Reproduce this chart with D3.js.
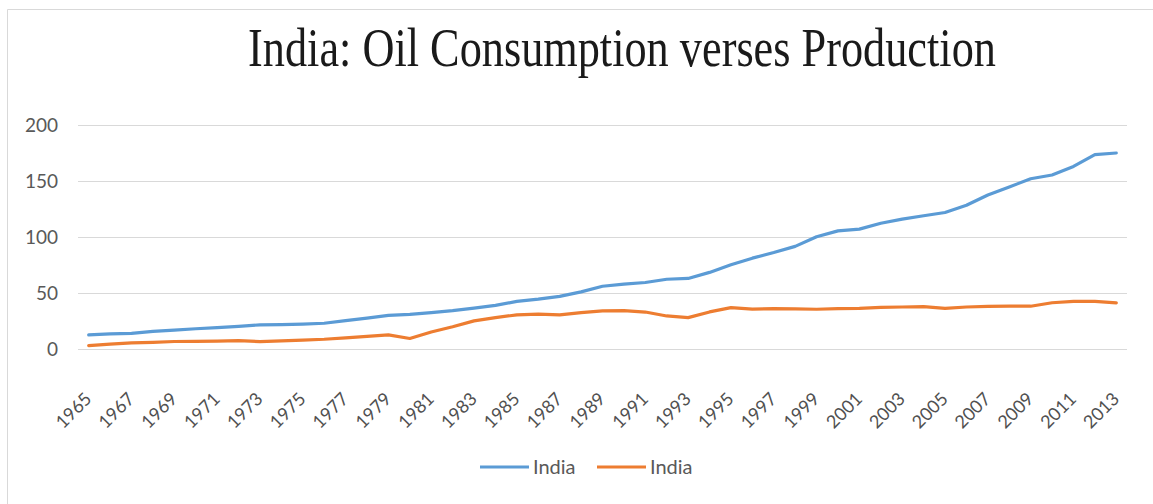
<!DOCTYPE html>
<html>
<head>
<meta charset="utf-8">
<script src="https://cdn.jsdelivr.net/npm/d3@7"></script>
<style>
  body { margin: 0; background: #fff; }
  svg { display: block; }
</style>
</head>
<body>
<div id="chart"></div>
<script>
// years on the category axis
const years = d3.range(1965, 2014);
// oil consumption, million tonnes
const consumption = [12.6, 13.5, 14.0, 15.7, 16.9, 18.1, 19.0, 20.2, 21.6, 21.8, 22.2, 23.0, 25.3, 27.6, 30.0,
  31.0, 32.5, 34.2, 36.5, 39.0, 42.5, 44.5, 47.0, 51.0, 56.0, 58.0, 59.4, 62.3, 63.0, 68.4,
  75.2, 81.1, 86.1, 91.6, 100.2, 105.5, 107.0, 112.3, 116.0, 119.0, 121.9, 128.3, 137.5, 144.7, 152.0,
  155.4, 163.0, 173.6, 175.0];
// oil production, million tonnes
const production = [3.0, 4.3, 5.5, 5.9, 6.7, 6.8, 7.0, 7.4, 6.6, 7.3, 8.0, 8.7, 10.0, 11.3, 12.6,
  9.4, 15.2, 19.9, 25.1, 28.0, 30.5, 31.2, 30.4, 32.5, 34.0, 34.3, 33.0, 29.5, 28.0, 33.1,
  37.0, 35.6, 36.0, 35.8, 35.5, 36.0, 36.3, 37.2, 37.5, 37.8, 36.3, 37.5, 38.0, 38.3, 38.2,
  41.3, 42.6, 42.5, 41.2];
const yTicks = [0, 50, 100, 150, 200];
const seriesNames = ["India", "India"];
const colors = ["#5b9bd5", "#ed7d31"];

const W = 1153, H = 504;
const margin = { left: 78, right: 26, top: 125, bottom: 155 };
const labelFont = "Lato, Open Sans, sans-serif";

const svg = d3.select("#chart").append("svg")
  .attr("width", W).attr("height", H);

// chart frame (runs off the right and bottom edges like the reference)
svg.append("path")
  .attr("d", `M7.5,${H} V9.5 H${W}`)
  .attr("fill", "none").attr("stroke", "#d9d9d9");

// title, squeezed horizontally
const title = svg.append("text")
  .attr("text-anchor", "middle")
  .attr("font-family", "Liberation Serif, Times New Roman, serif")
  .attr("font-size", 54)
  .attr("fill", "#1a1a1a")
  .text("India: Oil Consumption verses Production");
const tw = title.node().getComputedTextLength();
title.attr("transform", `translate(622,66) scale(${748 / tw},1)`);

const x = d3.scaleBand()
  .domain(years)
  .range([margin.left, W - margin.right]);

const y = d3.scaleLinear()
  .domain([0, 200])
  .range([H - margin.bottom, margin.top]);

// gridlines
svg.append("g")
  .selectAll("line")
  .data(yTicks)
  .enter()
  .append("line")
  .attr("x1", margin.left).attr("x2", W - margin.right)
  .attr("y1", d => Math.round(y(d)) + 0.5).attr("y2", d => Math.round(y(d)) + 0.5)
  .attr("stroke", "#d9d9d9").attr("stroke-width", 1);

// y axis labels
const yAxis = svg.append("g")
  .attr("transform", `translate(${margin.left - 12},0)`)
  .call(d3.axisLeft(y).tickValues(yTicks).tickSize(0).tickPadding(8));
yAxis.select(".domain").remove();
yAxis.selectAll("text")
  .attr("font-family", labelFont)
  .attr("font-size", 19)
  .attr("fill", "#595959");

// x axis labels, every second year
const xAxis = svg.append("g")
  .attr("transform", `translate(0,${y(0)})`)
  .call(d3.axisBottom(x).tickValues(years.filter((d, i) => i % 2 === 0)).tickSize(0).tickPadding(0));
xAxis.select(".domain").remove();
xAxis.selectAll("text")
  .attr("font-family", labelFont)
  .attr("font-size", 18)
  .attr("fill", "#505050")
  .attr("text-anchor", "end")
  .attr("dy", 0)
  .attr("transform", "translate(4,51) rotate(-45)");

const line = d3.line()
  .x((d, i) => x(years[i]) + x.bandwidth() / 2)
  .y(d => y(d));

[consumption, production].forEach((s, i) => {
  svg.append("path")
    .datum(s)
    .attr("fill", "none")
    .attr("stroke", colors[i])
    .attr("stroke-width", 3.2)
    .attr("stroke-linejoin", "round")
    .attr("stroke-linecap", "round")
    .attr("d", line);
});

// legend
const legendX = [480, 597];
const legend = svg.append("g");
seriesNames.forEach((name, i) => {
  legend.append("line")
    .attr("x1", legendX[i]).attr("x2", legendX[i] + 49)
    .attr("y1", 467).attr("y2", 467)
    .attr("stroke", colors[i]).attr("stroke-width", 3);
  legend.append("text")
    .attr("x", legendX[i] + 53).attr("y", 474)
    .attr("font-family", labelFont)
    .attr("font-size", 20)
    .attr("fill", "#595959")
    .text(name);
});
</script>
</body>
</html>
